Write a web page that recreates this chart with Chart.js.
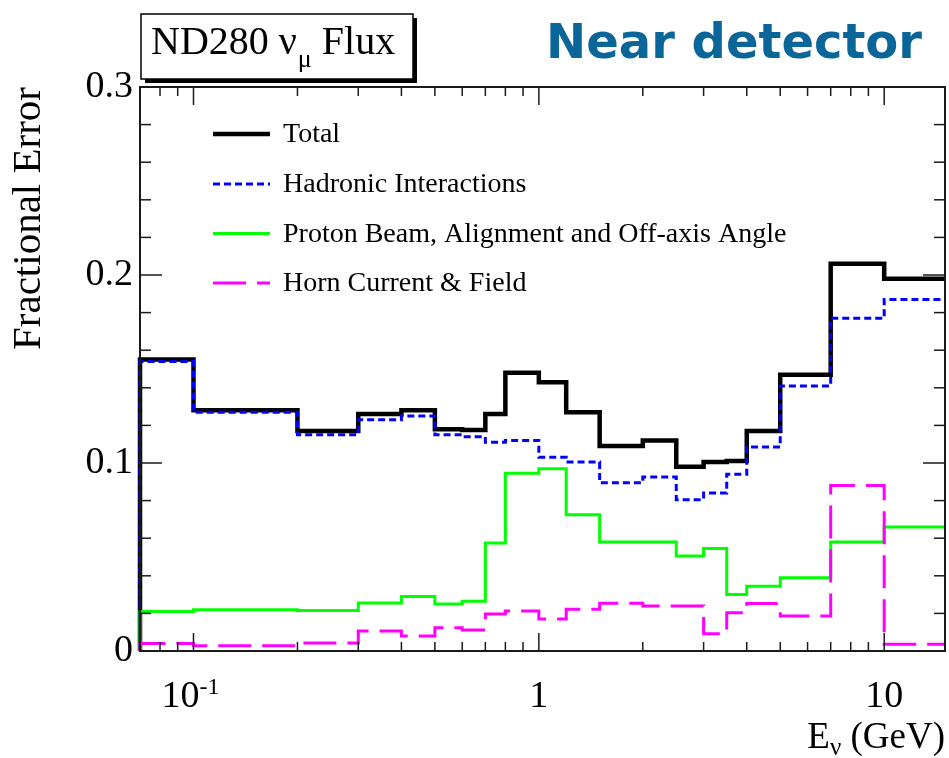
<!DOCTYPE html>
<html>
<head>
<meta charset="utf-8">
<title>ND280 numu flux fractional error</title>
<script src="https://cdn.jsdelivr.net/npm/chart.js@4/dist/chart.umd.min.js"></script>
<style>
  html, body { margin: 0; padding: 0; background: #ffffff; }
  canvas { display: block; }
</style>
</head>
<body>
<canvas id="chart" width="949" height="758"></canvas>
<script>
// Energy bin edges (GeV); the first bin starts at 0 and is cut by the log axis.
const binEdges = [0, 0.1, 0.2, 0.3, 0.4, 0.5, 0.6, 0.7, 0.8, 1.0, 1.2, 1.5, 2.0, 2.5, 3.0, 3.5, 4.0, 5.0, 7.0, 10.0, 30.0];

// Fractional error per bin for each source.
const totalErr    = [0.155, 0.128, 0.117, 0.126, 0.128, 0.118, 0.1175, 0.126, 0.148, 0.143, 0.127, 0.109, 0.112, 0.098, 0.1005, 0.101, 0.117, 0.147, 0.206, 0.198];
const hadronicErr = [0.154, 0.127, 0.115, 0.123, 0.125, 0.115, 0.114, 0.111, 0.112, 0.103, 0.1005, 0.0895, 0.0925, 0.0805, 0.084, 0.094, 0.1085, 0.141, 0.177, 0.187];
const protonErr   = [0.021, 0.022, 0.0215, 0.0255, 0.029, 0.025, 0.0265, 0.0575, 0.0945, 0.097, 0.0725, 0.058, 0.058, 0.0505, 0.0545, 0.030, 0.0345, 0.039, 0.058, 0.066];
const hornErr     = [0.004, 0.0028, 0.0043, 0.0106, 0.008, 0.0124, 0.0112, 0.0197, 0.0213, 0.017, 0.0222, 0.0254, 0.024, 0.024, 0.0092, 0.0204, 0.0252, 0.0186, 0.088, 0.0036];

const seriesNames = ['Total', 'Hadronic Interactions', 'Proton Beam, Alignment and Off-axis Angle', 'Horn Current & Field'];

// Axis labels
const yTickValues = [0, 0.1, 0.2, 0.3];
const xLabelValues = [0.1, 1, 10];
const xLabelMain = ['10', '1', '10'];
const xLabelSup = ['-1', '', ''];

const X_MIN = 0.07;
const X_MAX = 15;
const Y_MIN = 0;
const Y_MAX = 0.3;
const SERIF = '"Liberation Serif", "Times New Roman", Times, serif';

// Turn per-bin values into step-histogram vertices (rises from zero at the first edge).
function histPoints(values) {
  const pts = [{ x: Math.max(binEdges[0], X_MIN), y: 0 }];
  values.forEach((v, i) => pts.push({ x: binEdges[i + 1], y: v }));
  return pts;
}

// Frame with inward ticks on all four sides, ROOT style.
const framePlugin = {
  id: 'frame',
  afterDatasetsDraw(chart) {
    const { ctx, chartArea: a, scales: { x, y } } = chart;
    ctx.save();
    ctx.strokeStyle = '#1a1a1a';
    ctx.lineWidth = 1.5;
    const seg = (x0, y0, x1, y1) => { ctx.beginPath(); ctx.moveTo(x0, y0); ctx.lineTo(x1, y1); ctx.stroke(); };
    // y: major every 0.1, minor every 0.02
    for (let k = 0; k <= 15; k++) {
      const py = y.getPixelForValue(k * 0.02);
      const len = k % 5 === 0 ? 22 : 11;
      seg(a.left, py, a.left + len, py);
      seg(a.right, py, a.right - len, py);
    }
    // x: logarithmic ticks
    [0.01, 0.1, 1, 10].forEach(dec => {
      for (let m = 1; m <= 9; m++) {
        const v = m * dec;
        if (v < X_MIN || v > X_MAX) continue;
        const px = x.getPixelForValue(v);
        const len = m === 1 ? 18 : 9;
        seg(px, a.bottom, px, a.bottom - len);
        seg(px, a.top, px, a.top + len);
      }
    });
    ctx.lineWidth = 2;
    ctx.strokeRect(a.left, a.top, a.right - a.left, a.bottom - a.top);
    ctx.restore();
  }
};

// Tick labels on the energy axis, axis title, legend, and headings.
const textPlugin = {
  id: 'texts',
  afterDraw(chart) {
    const { ctx, chartArea: a, scales: { x } } = chart;
    ctx.save();
    ctx.fillStyle = '#000';
    ctx.textBaseline = 'alphabetic';

    // energy tick labels
    const labelBase = a.bottom + 56;
    xLabelValues.forEach((v, i) => {
      const px = x.getPixelForValue(v);
      ctx.font = '38px ' + SERIF;
      const w1 = ctx.measureText(xLabelMain[i]).width;
      let w2 = 0;
      if (xLabelSup[i]) {
        ctx.font = '24px ' + SERIF;
        w2 = ctx.measureText(xLabelSup[i]).width;
      }
      const start = px - (w1 + w2) / 2 - (w2 ? 3 : 0);
      ctx.font = '38px ' + SERIF;
      ctx.textAlign = 'left';
      ctx.fillText(xLabelMain[i], start, labelBase);
      if (xLabelSup[i]) {
        ctx.font = '24px ' + SERIF;
        ctx.fillText(xLabelSup[i], start + w1, labelBase - 13);
      }
    });

    // energy axis title, right aligned to the frame
    ctx.font = '37px ' + SERIF;
    const wE = ctx.measureText('E').width;
    const wRest = ctx.measureText(' (GeV)').width;
    ctx.font = '25px ' + SERIF;
    const wNu = ctx.measureText('\u03BD').width;
    const tBase = 748;
    let tx = a.right - (wE + wNu + wRest);
    ctx.font = '37px ' + SERIF;
    ctx.fillText('E', tx, tBase);
    ctx.font = '25px ' + SERIF;
    ctx.fillText('\u03BD', tx + wE, tBase + 7);
    ctx.font = '37px ' + SERIF;
    ctx.fillText(' (GeV)', tx + wE + wNu, tBase);

    // legend
    const rows = [134, 184, 233.5, 283];
    chart.data.datasets.forEach((ds, i) => {
      const ly = rows[i];
      ctx.save();
      ctx.strokeStyle = ds.borderColor;
      ctx.lineWidth = ds.borderWidth;
      ctx.setLineDash(ds.borderDash || []);
      ctx.lineCap = 'butt';
      ctx.beginPath();
      ctx.moveTo(213, ly);
      ctx.lineTo(270, ly);
      ctx.stroke();
      ctx.restore();
      ctx.font = '28px ' + SERIF;
      ctx.textBaseline = 'middle';
      ctx.textAlign = 'left';
      ctx.fillStyle = '#000';
      ctx.fillText(ds.label, 283, ly + 1);
    });

    // boxed heading with drop shadow
    const bx = 141, by = 14, bw = 272, bh = 65;
    ctx.fillStyle = '#000';
    ctx.fillRect(bx + 4, by + 4, bw, bh);
    ctx.fillStyle = '#fff';
    ctx.fillRect(bx, by, bw, bh);
    ctx.strokeStyle = '#000';
    ctx.lineWidth = 1.5;
    ctx.strokeRect(bx, by, bw, bh);
    ctx.fillStyle = '#000';
    ctx.textBaseline = 'alphabetic';
    ctx.textAlign = 'left';
    ctx.font = '40px ' + SERIF;
    const head1 = 'ND280 \u03BD';
    ctx.fillText(head1, 151, 54);
    const wh1 = ctx.measureText(head1).width;
    ctx.font = '26px ' + SERIF;
    ctx.fillText('\u03BC', 151 + wh1 + 1, 67);
    const wmu = ctx.measureText('\u03BC').width;
    ctx.font = '40px ' + SERIF;
    ctx.fillText(' Flux', 151 + wh1 + 1 + wmu, 54);

    // detector heading
    ctx.font = 'bold 48px "DejaVu Sans", Verdana, sans-serif';
    ctx.fillStyle = '#0a6699';
    ctx.textAlign = 'right';
    ctx.fillText('Near detector', 922, 58);
    ctx.restore();
  }
};

new Chart(document.getElementById('chart'), {
  type: 'line',
  data: {
    datasets: [
      { label: seriesNames[0], data: histPoints(totalErr), borderColor: '#000000', borderWidth: 4.5, order: 4 },
      { label: seriesNames[1], data: histPoints(hadronicErr), borderColor: '#0000ff', borderWidth: 3, borderDash: [7, 4], order: 3 },
      { label: seriesNames[2], data: histPoints(protonErr), borderColor: '#00ff00', borderWidth: 3, order: 2 },
      { label: seriesNames[3], data: histPoints(hornErr), borderColor: '#ff00ff', borderWidth: 3, borderDash: [33, 11], order: 1 }
    ].map(ds => Object.assign(ds, {
      stepped: 'after',
      fill: false,
      pointRadius: 0,
      pointHoverRadius: 0,
      borderCapStyle: 'butt',
      borderJoinStyle: 'miter',
      clip: { left: 3, top: 0, right: 0, bottom: 0 }
    }))
  },
  options: {
    responsive: false,
    animation: false,
    devicePixelRatio: 1,
    layout: { padding: { top: 87, right: 4, left: 0, bottom: 0 } },
    plugins: { legend: { display: false }, tooltip: { enabled: false } },
    scales: {
      x: {
        type: 'logarithmic',
        min: X_MIN,
        max: X_MAX,
        grid: { display: false, drawTicks: false },
        border: { display: false },
        ticks: { display: false },
        afterFit(scale) { scale.height = 107; }
      },
      y: {
        min: Y_MIN,
        max: Y_MAX,
        grid: { display: false, drawTicks: false },
        border: { display: false },
        afterBuildTicks(scale) { scale.ticks = yTickValues.map(v => ({ value: v })); },
        ticks: {
          color: '#000',
          padding: 7,
          font: { family: SERIF, size: 38 },
          callback: v => (v === 0 ? '0' : v.toFixed(1))
        },
        title: {
          display: true,
          text: 'Fractional Error',
          align: 'end',
          color: '#000',
          font: { family: SERIF, size: 41 },
          padding: { top: 5, bottom: 0 }
        },
        afterFit(scale) { scale.width = 140; }
      }
    }
  },
  plugins: [framePlugin, textPlugin]
});
</script>
</body>
</html>
